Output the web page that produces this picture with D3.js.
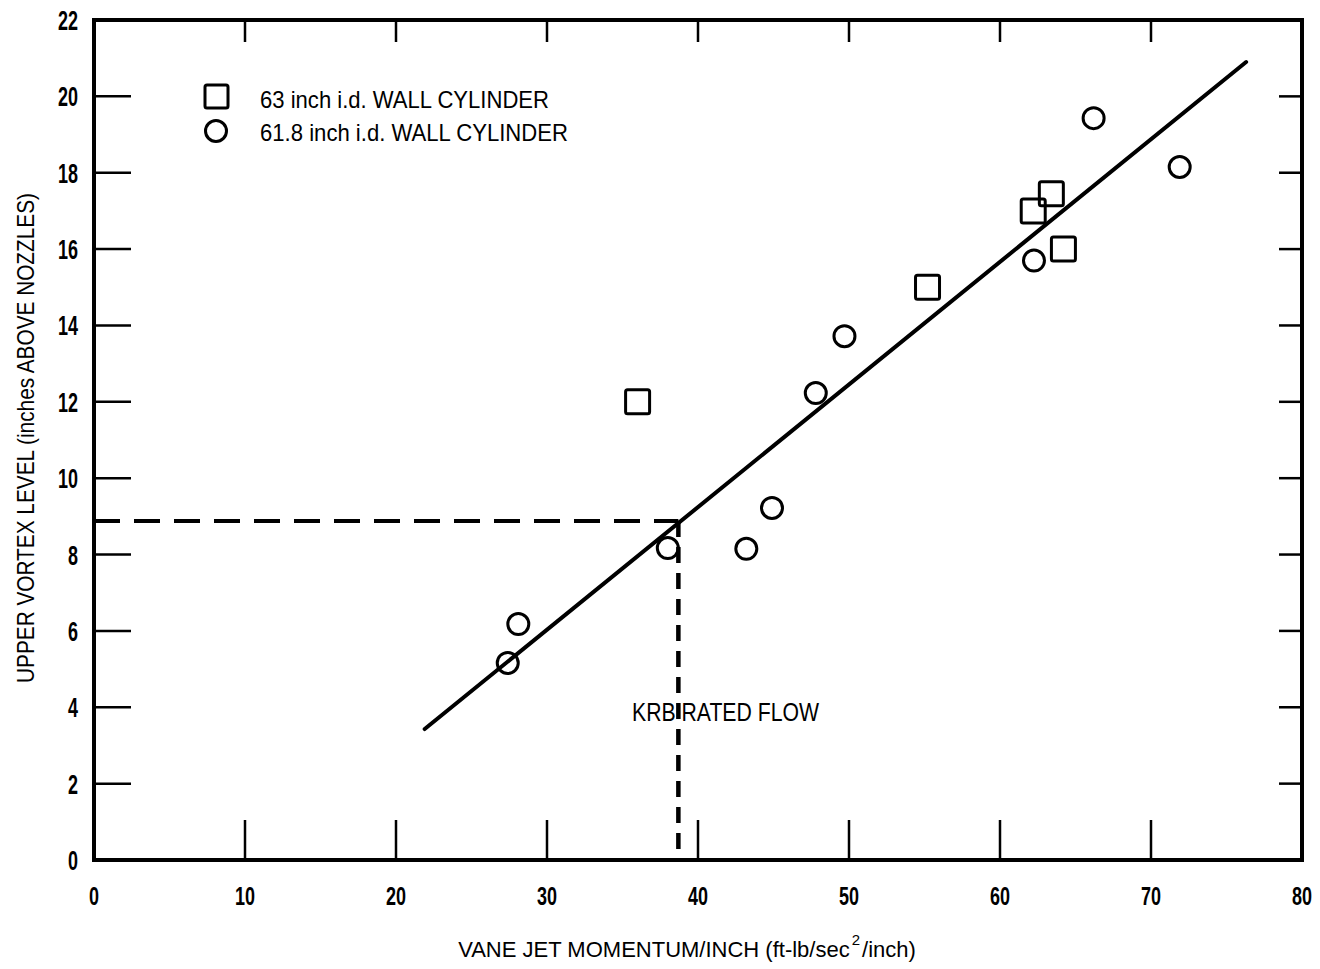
<!DOCTYPE html>
<html><head><meta charset="utf-8">
<script src="https://cdn.jsdelivr.net/npm/d3@7"></script>
<style>body{margin:0;background:#fff}</style>
</head><body>
<svg id="c" width="1320" height="969"></svg>
<script>
const xTicks = [0,10,20,30,40,50,60,70,80];
const yTicks = [0,2,4,6,8,10,12,14,16,18,20,22];
const squaresX = [36.0, 55.2, 62.2, 63.4, 64.2];
const squaresY = [12.0, 15.0, 17.0, 17.45, 16.0];
const circlesX = [27.4, 28.1, 38.0, 43.2, 44.9, 47.8, 49.7, 62.25, 66.2, 71.9];
const circlesY = [5.16, 6.18, 8.17, 8.15, 9.22, 12.23, 13.72, 15.7, 19.43, 18.15];
const fitX = [21.9, 76.3];
const fitY = [3.43, 20.9];
const ratedX = 38.7, ratedY = 8.88;
const legendLabels = ["63 inch i.d. WALL CYLINDER", "61.8 inch i.d. WALL CYLINDER"];
const xTitleParts = ["VANE JET MOMENTUM/INCH (ft-lb/sec", "2", "/inch)"];

const FONT = "'Liberation Sans',Arial,sans-serif";
const svg = d3.select("#c");
const L=94, R=1302, T=20, B=860;
const x = d3.scaleLinear().domain([0,80]).range([L,R]);
const y = d3.scaleLinear().domain([0,22]).range([B,T]);

// ticks inside
const g = svg.append("g");
xTicks.slice(1,-1).forEach(v=>{
  g.append("line").attr("x1",x(v)).attr("x2",x(v)).attr("y1",B).attr("y2",B-40).attr("stroke","#000").attr("stroke-width",2.5);
  g.append("line").attr("x1",x(v)).attr("x2",x(v)).attr("y1",T).attr("y2",T+22).attr("stroke","#000").attr("stroke-width",2.5);
});
yTicks.slice(1,-1).forEach(v=>{
  g.append("line").attr("x1",L).attr("x2",L+37).attr("y1",y(v)).attr("y2",y(v)).attr("stroke","#000").attr("stroke-width",2.5);
  g.append("line").attr("x1",R).attr("x2",R-23).attr("y1",y(v)).attr("y2",y(v)).attr("stroke","#000").attr("stroke-width",2.5);
});
// frame
svg.append("rect").attr("x",L).attr("y",T).attr("width",R-L).attr("height",B-T)
  .attr("fill","none").attr("stroke","#000").attr("stroke-width",4);

// tick labels (condensed via textLength)
svg.append("g").selectAll("text").data(xTicks).join("text")
  .attr("x",d=>x(d)).attr("y",905).attr("text-anchor","middle")
  .attr("font-family",FONT).attr("font-size",26).attr("font-weight","bold").attr("fill","#000")
  .attr("textLength",d=>String(d).length*10).attr("lengthAdjust","spacingAndGlyphs").text(d=>d);
svg.append("g").selectAll("text").data(yTicks).join("text")
  .attr("x",78).attr("y",d=>y(d)+10).attr("text-anchor","end")
  .attr("font-family",FONT).attr("font-size",27).attr("font-weight","bold").attr("fill","#000")
  .attr("textLength",d=>String(d).length*10).attr("lengthAdjust","spacingAndGlyphs").text(d=>d);

// x title in three parts, placed sequentially
const sizes = [22, 15, 22], ys = [957, 945, 957];
const parts = xTitleParts.map((s,i)=>svg.append("text").attr("y",ys[i])
  .attr("font-family",FONT).attr("font-size",sizes[i]).attr("fill","#000").text(s));
const widths = parts.map(p=>p.node().getComputedTextLength());
const gap = 2;
const total = widths.reduce((a,b)=>a+b,0) + gap*2;
let cx = 687 - total/2;
parts.forEach((p,i)=>{ p.attr("x",cx); cx += widths[i] + gap; });

svg.append("text").attr("transform","translate(34,683) rotate(-90)")
  .attr("font-family",FONT).attr("font-size",24).attr("fill","#000")
  .attr("textLength",490).attr("lengthAdjust","spacingAndGlyphs")
  .text("UPPER VORTEX LEVEL (inches ABOVE NOZZLES)");

// dashed rated flow lines
svg.append("line").attr("x1",x(0)).attr("x2",x(ratedX)).attr("y1",y(ratedY)).attr("y2",y(ratedY))
  .attr("stroke","#000").attr("stroke-width",4).attr("stroke-dasharray","26,14");
svg.append("line").attr("x1",x(ratedX)).attr("x2",x(ratedX)).attr("y1",y(ratedY)).attr("y2",y(0))
  .attr("stroke","#000").attr("stroke-width",4.5).attr("stroke-dasharray","16,10");
svg.append("text").attr("x",632).attr("y",721).attr("font-family",FONT).attr("font-size",25)
  .attr("fill","#000").attr("textLength",187).attr("lengthAdjust","spacingAndGlyphs").text("KRB RATED FLOW");

// fit line
svg.append("line").attr("x1",x(fitX[0])).attr("y1",y(fitY[0])).attr("x2",x(fitX[1])).attr("y2",y(fitY[1]))
  .attr("stroke","#000").attr("stroke-width",4).attr("stroke-linecap","round");

// markers
const sq = 24;
svg.append("g").selectAll("rect").data(squaresX.map((d,i)=>[d,squaresY[i]])).join("rect")
  .attr("x",d=>x(d[0])-sq/2).attr("y",d=>y(d[1])-sq/2).attr("width",sq).attr("height",sq).attr("rx",2)
  .attr("fill","none").attr("stroke","#000").attr("stroke-width",3);
svg.append("g").selectAll("circle").data(circlesX.map((d,i)=>[d,circlesY[i]])).join("circle")
  .attr("cx",d=>x(d[0])).attr("cy",d=>y(d[1])).attr("r",10.5)
  .attr("fill","none").attr("stroke","#000").attr("stroke-width",3);

// legend
svg.append("rect").attr("x",205).attr("y",85).attr("width",23).attr("height",23).attr("rx",2)
  .attr("fill","none").attr("stroke","#000").attr("stroke-width",3);
svg.append("circle").attr("cx",216).attr("cy",131).attr("r",10.5)
  .attr("fill","none").attr("stroke","#000").attr("stroke-width",3);
svg.append("text").attr("x",260).attr("y",108).attr("font-family",FONT).attr("font-size",24).attr("fill","#000")
  .attr("textLength",289).attr("lengthAdjust","spacingAndGlyphs").text(legendLabels[0]);
svg.append("text").attr("x",260).attr("y",141).attr("font-family",FONT).attr("font-size",24).attr("fill","#000")
  .attr("textLength",308).attr("lengthAdjust","spacingAndGlyphs").text(legendLabels[1]);
</script>
</body></html>
